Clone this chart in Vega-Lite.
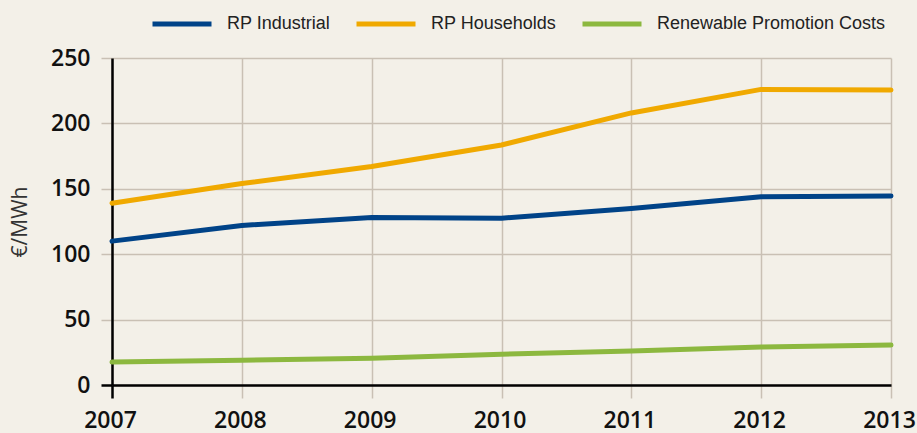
{
  "$schema": "https://vega.github.io/schema/vega-lite/v6.json",
  "width": 779,
  "height": 327,
  "autosize": {"type": "none"},
  "padding": {"left": 112, "top": 58, "right": 26, "bottom": 48},
  "background": "#f3f0e8",
  "config": {"view": {"stroke": null}},
  "data": {
    "values": [
      {"year": 2007, "series": "RP Industrial", "value": 110},
      {"year": 2008, "series": "RP Industrial", "value": 122},
      {"year": 2009, "series": "RP Industrial", "value": 128},
      {"year": 2010, "series": "RP Industrial", "value": 127.5},
      {"year": 2011, "series": "RP Industrial", "value": 135},
      {"year": 2012, "series": "RP Industrial", "value": 144},
      {"year": 2013, "series": "RP Industrial", "value": 144.5},
      {"year": 2007, "series": "RP Households", "value": 139},
      {"year": 2008, "series": "RP Households", "value": 154},
      {"year": 2009, "series": "RP Households", "value": 167},
      {"year": 2010, "series": "RP Households", "value": 183.5},
      {"year": 2011, "series": "RP Households", "value": 208},
      {"year": 2012, "series": "RP Households", "value": 226},
      {"year": 2013, "series": "RP Households", "value": 225.5},
      {"year": 2007, "series": "Renewable Promotion Costs", "value": 17.5},
      {"year": 2008, "series": "Renewable Promotion Costs", "value": 19},
      {"year": 2009, "series": "Renewable Promotion Costs", "value": 20.5},
      {"year": 2010, "series": "Renewable Promotion Costs", "value": 23.5},
      {"year": 2011, "series": "Renewable Promotion Costs", "value": 26},
      {"year": 2012, "series": "Renewable Promotion Costs", "value": 29},
      {"year": 2013, "series": "Renewable Promotion Costs", "value": 30.5}
    ]
  },
  "mark": {"type": "line", "strokeWidth": 5, "strokeCap": "round", "strokeJoin": "round"},
  "encoding": {
    "x": {
      "field": "year",
      "type": "quantitative",
      "scale": {"domain": [2007, 2013], "nice": false, "zero": false},
      "axis": {
        "title": null,
        "values": [2007, 2008, 2009, 2010, 2011, 2012, 2013],
        "format": "d",
        "domainColor": "#000000",
        "domainWidth": 2.5,
        "tickSize": 13,
        "tickColor": {"condition": {"test": "datum.value === 2007", "value": "#000000"}, "value": "#c9c0b4"},
        "tickWidth": {"condition": {"test": "datum.value === 2007", "value": 2.5}, "value": 1.5},
        "grid": true,
        "gridColor": "#c9c0b4",
        "gridWidth": 1.5,
        "labelFont": "Open Sans",
        "labelFontWeight": 600,
        "labelFontSize": 23,
        "labelColor": "#111111",
        "labelPadding": 11,
        "labelOffset": -2,
        "labelFlush": false
      }
    },
    "y": {
      "field": "value",
      "type": "quantitative",
      "scale": {"domain": [0, 250], "nice": false},
      "axis": {
        "values": [0, 50, 100, 150, 200, 250],
        "domainColor": "#000000",
        "domainWidth": 2.5,
        "tickSize": 11,
        "tickColor": {"condition": {"test": "datum.value === 0", "value": "#000000"}, "value": "#c9c0b4"},
        "tickWidth": {"condition": {"test": "datum.value === 0", "value": 2.5}, "value": 1.5},
        "grid": true,
        "gridColor": "#c9c0b4",
        "gridWidth": 1.5,
        "labelFont": "Open Sans",
        "labelFontWeight": 600,
        "labelFontSize": 23,
        "labelColor": "#111111",
        "labelPadding": 11,
        "title": "€/MWh",
        "titleFont": "Open Sans",
        "titleFontWeight": "normal",
        "titleFontSize": 21,
        "titleColor": "#333333",
        "titlePadding": 20
      }
    },
    "color": {
      "field": "series",
      "type": "nominal",
      "scale": {
        "domain": ["RP Industrial", "RP Households", "Renewable Promotion Costs"],
        "range": ["#004388", "#f0a900", "#8cb83f"]
      },
      "legend": {
        "title": null,
        "orient": "none",
        "direction": "horizontal",
        "legendX": 38,
        "legendY": -66,
        "symbolType": "stroke",
        "symbolSize": 3481,
        "symbolStrokeWidth": 5,
        "labelOffset": 13,
        "columnPadding": 15,
        "labelFont": "Liberation Sans",
        "labelFontSize": 18,
        "labelColor": "#222222",
        "labelLimit": 400
      }
    }
  }
}
